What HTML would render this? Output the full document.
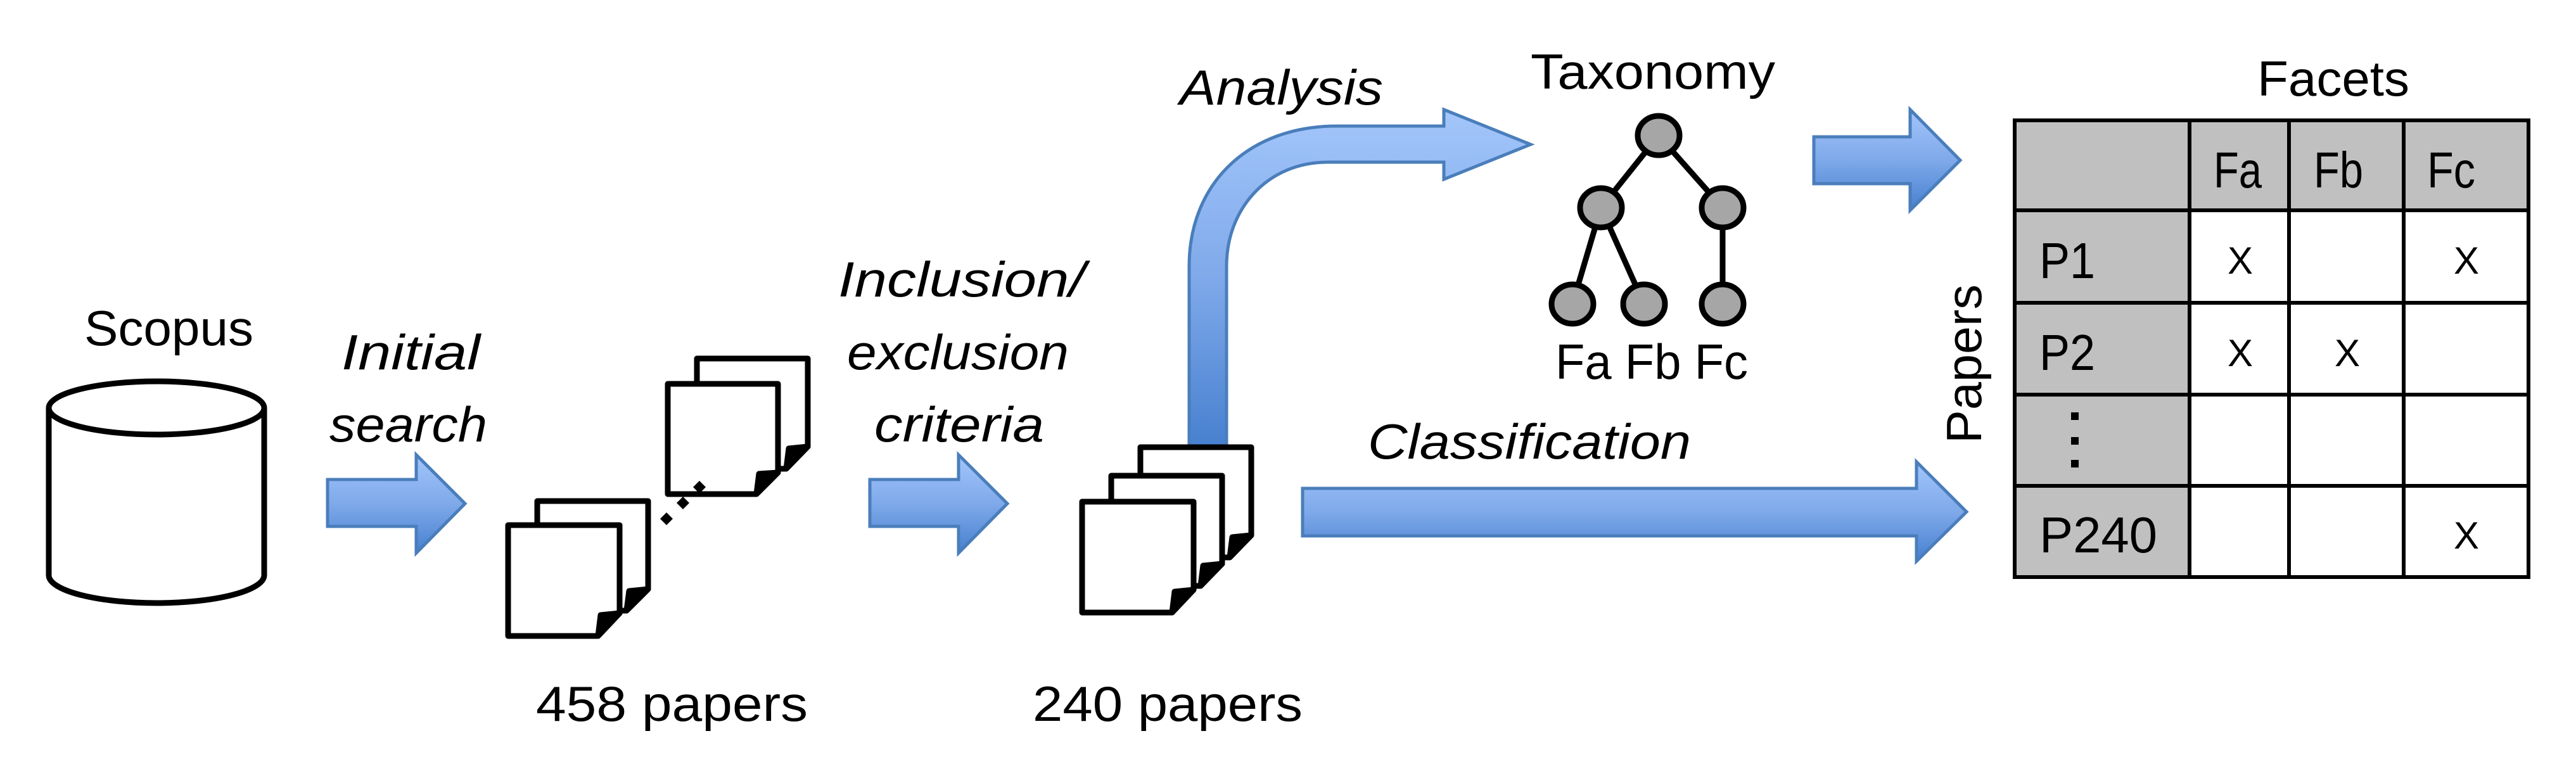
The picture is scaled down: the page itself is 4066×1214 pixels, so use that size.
<!DOCTYPE html>
<html><head><meta charset="utf-8">
<style>html,body{margin:0;padding:0;background:#fff;}svg{display:block;}
text{font-family:"Liberation Sans",sans-serif;fill:#000;}
.i{font-style:italic;}</style></head>
<body>
<svg width="4066" height="1214" viewBox="0 0 4066 1214" xmlns="http://www.w3.org/2000/svg">
<defs>
<linearGradient id="g" x1="0" y1="0" x2="0" y2="1">
<stop offset="0" stop-color="#a3c6fb"/><stop offset="0.5" stop-color="#7fa9ea"/><stop offset="1" stop-color="#4780cf"/></linearGradient>
</defs>

<!-- Scopus -->
<text x="133" y="545" font-size="78" textLength="267" lengthAdjust="spacingAndGlyphs">Scopus</text>
<path d="M77,644 V908 A170,44 0 0 0 417,908 V644" fill="#fff" stroke="#000" stroke-width="9"/>
<ellipse cx="247" cy="644" rx="170" ry="42" fill="#fff" stroke="#000" stroke-width="9"/>

<!-- Arrow 1 -->
<text class="i" x="539" y="583" font-size="78" textLength="219" lengthAdjust="spacingAndGlyphs">Initial</text>
<text class="i" x="520" y="697" font-size="78" textLength="249" lengthAdjust="spacingAndGlyphs">search</text>
<path d="M517,757 H657 V718 L734,795 L657,873 V831 H517 Z" fill="url(#g)" stroke="#4a7ebb" stroke-width="5"/>

<!-- docs 458 -->
<g fill="#fff" stroke="#000" stroke-width="9" stroke-linejoin="round">
<path d="M1100,566 H1275 V705 L1241,740 H1100 Z"/><path d="M1245,708 L1275,705 L1241,740 Z" fill="#000"/>
<path d="M1054,606 H1228 V746 L1194,780 H1054 Z"/><path d="M1198,748 L1228,746 L1194,780 Z" fill="#000"/>
<path d="M848,791 H1023 V930 L989,964 H848 Z"/><path d="M993,933 L1023,930 L989,964 Z" fill="#000"/>
<path d="M802,829 H978 V968 L944,1004 H802 Z"/><path d="M948,971 L978,968 L944,1004 Z" fill="#000"/>
</g>
<g fill="#000">
<path d="M1104,759 L1114,769 L1104,779 L1094,769 Z"/>
<path d="M1078,784 L1088,794 L1078,804 L1068,794 Z"/>
<path d="M1052,809 L1062,819 L1052,829 L1042,819 Z"/>
</g>
<text x="846" y="1138" font-size="78" textLength="429" lengthAdjust="spacingAndGlyphs">458 papers</text>

<!-- Arrow 2 -->
<text class="i" x="1323" y="468" font-size="78" textLength="390" lengthAdjust="spacingAndGlyphs">Inclusion/</text>
<text class="i" x="1337" y="583" font-size="78" textLength="350" lengthAdjust="spacingAndGlyphs">exclusion</text>
<text class="i" x="1380" y="697" font-size="78" textLength="268" lengthAdjust="spacingAndGlyphs">criteria</text>
<path d="M1373,757 H1513 V718 L1590,795 L1513,873 V831 H1373 Z" fill="url(#g)" stroke="#4a7ebb" stroke-width="5"/>

<!-- curved analysis arrow -->
<path d="M1877,706 V420 C1877,290 1970,199 2110,199 H2279 V173 L2416,228 L2279,283 V256 H2096 C2000,256 1936,330 1936,420 V706 Z" fill="url(#g)" stroke="#4a7ebb" stroke-width="5"/>
<text class="i" x="1862" y="165" font-size="78" textLength="321" lengthAdjust="spacingAndGlyphs">Analysis</text>

<!-- docs 240 -->
<g fill="#fff" stroke="#000" stroke-width="9" stroke-linejoin="round">
<path d="M1800,706 H1975 V845 L1941,880 H1800 Z"/><path d="M1945,848 L1975,845 L1941,880 Z" fill="#000"/>
<path d="M1754,751 H1929 V890 L1895,925 H1754 Z"/><path d="M1899,893 L1929,890 L1895,925 Z" fill="#000"/>
<path d="M1708,792 H1884 V931 L1850,967 H1708 Z"/><path d="M1854,934 L1884,931 L1850,967 Z" fill="#000"/>
</g>
<text x="1630" y="1138" font-size="78" textLength="426" lengthAdjust="spacingAndGlyphs">240 papers</text>

<!-- Classification arrow -->
<text class="i" x="2159" y="724" font-size="78" textLength="510" lengthAdjust="spacingAndGlyphs">Classification</text>
<path d="M2056,771 H3025 V729 L3104,808 L3025,886 V846 H2056 Z" fill="url(#g)" stroke="#4a7ebb" stroke-width="5"/>

<!-- Taxonomy -->
<text x="2416" y="140" font-size="78" textLength="386" lengthAdjust="spacingAndGlyphs">Taxonomy</text>
<g stroke="#000" stroke-width="9">
<line x1="2618" y1="214" x2="2527" y2="328"/><line x1="2618" y1="214" x2="2719" y2="328"/>
<line x1="2527" y1="328" x2="2482" y2="480"/><line x1="2527" y1="328" x2="2595" y2="480"/>
<line x1="2719" y1="328" x2="2719" y2="480"/>
</g>
<g fill="#a6a6a6" stroke="#000" stroke-width="9">
<ellipse cx="2618" cy="214" rx="33" ry="31"/>
<ellipse cx="2527" cy="328" rx="33" ry="31"/><ellipse cx="2719" cy="328" rx="33" ry="31"/>
<ellipse cx="2482" cy="480" rx="33" ry="31"/><ellipse cx="2595" cy="480" rx="33" ry="31"/><ellipse cx="2719" cy="480" rx="33" ry="31"/>
</g>
<text x="2455" y="598" font-size="78" textLength="304" lengthAdjust="spacingAndGlyphs">Fa Fb Fc</text>

<!-- Arrow 3 -->
<path d="M2863,216 H3015 V173 L3094,253 L3015,332 V290 H2863 Z" fill="url(#g)" stroke="#4a7ebb" stroke-width="5"/>

<!-- Table -->
<text x="3563" y="151" font-size="78" textLength="240" lengthAdjust="spacingAndGlyphs">Facets</text>
<text transform="translate(3127,700) rotate(-90)" font-size="78" textLength="251" lengthAdjust="spacingAndGlyphs">Papers</text>
<rect x="3180" y="190" width="811" height="142" fill="#c0c0c0"/>
<rect x="3180" y="190" width="276" height="721" fill="#c0c0c0"/>
<g stroke="#000" stroke-width="6" fill="none">
<rect x="3180" y="190" width="811" height="721"/>
<line x1="3456" y1="190" x2="3456" y2="911"/><line x1="3613" y1="190" x2="3613" y2="911"/><line x1="3794" y1="190" x2="3794" y2="911"/>
<line x1="3180" y1="332" x2="3991" y2="332"/><line x1="3180" y1="478" x2="3991" y2="478"/><line x1="3180" y1="623" x2="3991" y2="623"/><line x1="3180" y1="767" x2="3991" y2="767"/>
</g>
<g font-size="80">
<text x="3494" y="296" textLength="76" lengthAdjust="spacingAndGlyphs">Fa</text>
<text x="3652" y="296" textLength="78" lengthAdjust="spacingAndGlyphs">Fb</text>
<text x="3831" y="296" textLength="76" lengthAdjust="spacingAndGlyphs">Fc</text>
<text x="3219" y="439" textLength="88" lengthAdjust="spacingAndGlyphs">P1</text>
<text x="3219" y="584" textLength="88" lengthAdjust="spacingAndGlyphs">P2</text>
<text x="3219" y="872" textLength="186" lengthAdjust="spacingAndGlyphs">P240</text>
</g>
<g font-size="60" text-anchor="middle">
<text x="3536" y="432">X</text><text x="3893" y="432">X</text>
<text x="3536" y="578">X</text><text x="3705" y="578">X</text>
<text x="3893" y="866">X</text>
</g>
<g fill="#000"><rect x="3269" y="651" width="12" height="12"/><rect x="3269" y="690" width="12" height="12"/><rect x="3269" y="726" width="12" height="12"/></g>
</svg>
</body></html>
